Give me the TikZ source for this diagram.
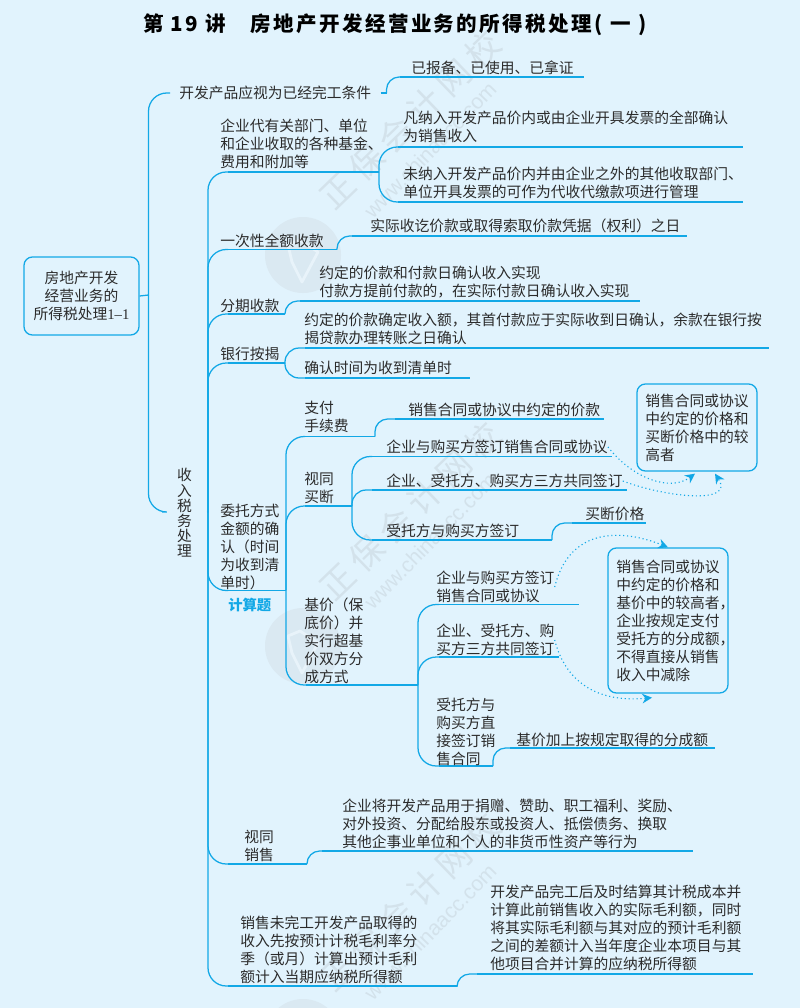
\documentclass[tikz,border=0pt]{standalone}
\usepackage{fontspec}
\setmainfont{Noto Sans CJK SC}
\newfontfamily\titlefont[LetterSpace=12]{Noto Sans CJK SC}
\newfontfamily\wmfont[LetterSpace=20]{Noto Sans CJK SC}
\newfontfamily\urlfont{Liberation Sans}
\newfontfamily\serialfont{Liberation Serif}
\usetikzlibrary{calc,arrows.meta}
\definecolor{paper}{HTML}{E1F3FD}
\definecolor{wirec}{HTML}{12A8E6}
\definecolor{inkc}{HTML}{2B2B2B}
\definecolor{wmc}{HTML}{D3E2EB}
\definecolor{logoc}{HTML}{DAE9F2}
\definecolor{logol}{HTML}{E8F3FA}
\tikzset{
	wire/.style={draw=wirec,line width=0.9pt},
	bigbend/.style={rounded corners=13pt},
	midbend/.style={rounded corners=10pt},
	stepup/.style={rounded corners=9pt},
	txt/.style={anchor=west,align=left,inner sep=0pt,text=inkc,font=\fontsize{10.5}{12.8}\selectfont},
	boxed/.style={draw=wirec,line width=0.9pt,rounded corners=6pt,align=left,inner sep=0pt,text=inkc,font=\fontsize{10.5}{12.8}\selectfont},
	hint/.style={draw=wirec,line width=0.8pt,dotted,-{Stealth[length=7pt,width=7pt,fill=wirec,line width=0pt]}},
	wmt/.style={text=wmc,inner sep=0pt,rotate=44,font=\wmfont\fontsize{24}{24}\selectfont},
	wmu/.style={text=wmc,inner sep=0pt,rotate=46,font=\urlfont\fontsize{15}{15}\selectfont}
}
\def\rail(#1)(#2:#3:#4){\coordinate (#1a) at (#2,#4); \coordinate (#1b) at (#3,#4); \draw[wire] (#1a) -- (#1b);}
\def\wmark(#1)(#2,#3){
	\fill[logoc] (#2-107,#3+135) circle (38);
	\draw[logol,line width=2pt,line join=round] (#2-122,#3+125) -- (#2-110,#3+120) -- (#2-92,#3+132) -- (#2-108,#3+162) -- (#2-118,#3+142) -- cycle;
	\node[wmt] (#1t) at (#2,#3) {正保会计网校};
	\node[wmu] (#1u) at (#2+20,#3+30) {www.chinaacc.com};
}

\begin{document}
\begin{tikzpicture}[x=0.025cm,y=-0.025cm]
		%%%%% START %%%%%
		\useasboundingbox (0,0) rectangle (800,1008);
		\fill[paper] (0,0) rectangle (800,1008);
		\wmark(wma)(410,120)
		\wmark(wmb)(410,511)
		\wmark(wmd)(410,902)
		
		\node[anchor=west,inner sep=0pt,text=black,font=\titlefont\bfseries\fontsize{14.6}{16}\selectfont] (title) at (143,25) {第 19 讲\hspace{17pt}房地产开发经营业务的所得税处理( 一 )};
		
		% left column
		\node[boxed,minimum width=2.875cm,minimum height=1.95cm,align=center] (root) at (81.5,296) {房地产开发\\经营业务的\\所得税处理{\serialfont 1–1}};
		\coordinate (rootj) at (148.5,295);
		\coordinate (srj) at (208,512);
		\node[txt,inner xsep=0.225cm] (kfcp) at (170,93) {开发产品应视为已经完工条件};
		\node[txt,anchor=center,align=center,inner xsep=0.37cm,font=\fontsize{10.5}{10.8}\selectfont] (shouru) at (184.5,513) {收\\入\\税\\务\\处\\理};
		\draw[wire] (root.east) -- (rootj);
		\draw[wire,bigbend] (kfcp.west) -| (rootj);
		\draw[wire,bigbend] (shouru.west |- srj) -| (rootj);
		\draw[wire] (shouru.east |- srj) -- (srj);
		
		\rail(yb)(400:584:77)
		\node[txt] (tyb) at (411,68) {已报备、已使用、已拿证};
		\draw[wire] (kfcp.east) -- ++(6,0) coordinate (kfj);
		\draw[wire,stepup] (kfj) |- (yba);
		
		\rail(qy)(228:379:172)
		\node[txt] (tqy) at (220,144) {企业代有关部门、单位\\和企业收取的各种基金、\\费用和附加等};
		\draw[wire,bigbend] (qya) -| (srj);
		\rail(fn)(398:743:147)
		\rail(wn)(398:743:202)
		\node[txt] (tfn) at (403,127) {凡纳入开发产品价内或由企业开具发票的全部确认\\为销售收入};
		\node[txt] (twn) at (403,183) {未纳入开发产品价内并由企业之外的其他收取部门、\\单位开具发票的可作为代收代缴款项进行管理};
		\draw[wire,bigbend] (fna) -| (qyb);
		\draw[wire,bigbend] (wna) -| (qyb);
		
		\rail(yc)(228:337:249.5)
		\node[txt] (tyc) at (220,241) {一次性全额收款};
		\draw[wire,bigbend] (yca) -| (srj);
		\rail(sj)(352:687:236)
		\node[txt] (tsj) at (370,226) {实际收讫价款或取得索取价款凭据（权利）之日};
		\draw[wire,stepup] (ycb) |- (sja);
		
		\rail(fq)(228:285:314)
		\node[txt] (tfq) at (220,306) {分期收款};
		\draw[wire,bigbend] (fqa) -| (srj);
		\rail(yd)(300:640:301)
		\node[txt] (tyd) at (319,282) {约定的价款和付款日确认收入实现\\付款方提前付款的，在实际付款日确认收入实现};
		\draw[wire,stepup] (fqb) |- (yda);
		
		\rail(yh)(228:285:363)
		\node[txt] (tyh) at (220,354) {银行按揭};
		\draw[wire,bigbend] (yha) -| (srj);
		\rail(ydj)(305:769:348)
		\rail(qr)(305:470:378)
		\node[txt] (tydj) at (304,329) {约定的价款确定收入额，其首付款应于实际收到日确认，余款在银行按\\揭贷款办理转账之日确认};
		\node[txt] (tqr) at (304,368) {确认时间为收到清单时};
		\draw[wire,midbend] (ydja) -| (yhb);
		\draw[wire,midbend] (qra) -| (yhb);
		
		% entrusted sales
		\rail(wt)(228:286:590.5)
		\node[txt] (twt) at (220,547) {委托方式\\金额的确\\认（时间\\为收到清\\单时）};
		\node[txt,text=wirec,font=\bfseries\fontsize{10.2}{12}\selectfont] (tjs) at (228,605) {计算题};
		\draw[wire,bigbend] (wta) -| (srj);
		
		\rail(zf)(305:375:436.5)
		\node[txt] (tzf) at (304,417) {支付\\手续费};
		\draw[wire,bigbend] (zfa) -| (wtb);
		\rail(xs)(395:604:419)
		\node[txt] (txs) at (408,410) {销售合同或协议中约定的价款};
		\draw[wire,stepup] (zfb) |- (xsa);
		
		\rail(st)(305:352:506)
		\node[txt] (tst) at (304,488) {视同\\买断};
		\draw[wire,bigbend] (sta) -| (wtb);
		\rail(qm)(372:612:456.5)
		\rail(qs)(372:627:490)
		\rail(sf)(372:552:540)
		\node[txt] (tqm) at (386,447) {企业与购买方签订销售合同或协议};
		\node[txt] (tqs) at (386,481) {企业、受托方、购买方三方共同签订};
		\node[txt] (tsf) at (386,531) {受托方与购买方签订};
		\draw[wire,bigbend] (qma) -| (stb);
		\draw[wire,midbend] (qsa) -| (stb);
		\draw[wire,bigbend] (sfa) -| (stb);
		\rail(md)(572:646:523)
		\node[txt] (tmd) at (585,514) {买断价格};
		\draw[wire,stepup] (sfb) |- (mda);
		
		\rail(jj)(306:418:685)
		\node[txt] (tjj) at (304,641) {基价（保\\底价）并\\实行超基\\价双方分\\成方式};
		\draw[wire,bigbend] (jja) -| (wtb);
		\rail(qa)(439:579:604.5)
		\rail(qb)(439:559:657)
		\rail(sz)(439:493:766)
		\node[txt] (tqa) at (436,587) {企业与购买方签订\\销售合同或协议};
		\node[txt] (tqb) at (436,640) {企业、受托方、购\\买方三方共同签订};
		\node[txt] (tsz) at (436,732) {受托方与\\购买方直\\接签订销\\售合同};
		\draw[wire,bigbend] (qaa) -| (jjb);
		\draw[wire,bigbend] (qba) -| (jjb);
		\draw[wire,bigbend] (sza) -| (jjb);
		\rail(jf)(510:715:748)
		\node[txt] (tjf) at (516,740) {基价加上按规定取得的分成额};
		\draw[wire,stepup] (szb) |- (jfa);
		
		% right hand boxes
		\node[boxed,minimum width=3cm,minimum height=2.175cm] (boxa) at (697,427.5) {销售合同或协议\\中约定的价格和\\买断价格中的较\\高者};
		\node[boxed,minimum width=3cm,minimum height=3.625cm] (boxb) at (668,620.5) {销售合同或协议\\中约定的价格和\\基价中的较高者\rlap{，}\\企业按规定支付\\受托方的分成额\rlap{，}\\不得直接从销售\\收入中减除};
		\draw[hint] (tqm.east) .. controls (632,478) and (670,492) .. ([shift={(-2,2)}]boxa.south);
		\draw[hint] (tqs.east) .. controls (665,497) and (735,505) .. ([shift={(18,2)}]boxa.south);
		\draw[hint] (tqa.east) .. controls (570,525) and (625,530) .. (boxb.north);
		\draw[hint] (tqb.east) .. controls (565,680) and (595,703) .. ([shift={(-16,4)}]boxb.south);
		
		% lower branches
		\rail(ss)(228:307:864)
		\node[txt] (tss) at (244,846) {视同\\销售};
		\draw[wire,bigbend] (ssa) -| (srj);
		\rail(fc)(322:693:851)
		\node[txt] (tfc) at (342,824) {企业将开发产品用于捐赠、赞助、职工福利、奖励、\\对外投资、分配给股东或投资人、抵偿债务、换取\\其他企事业单位和个人的非货币性资产等行为};
		\draw[wire,stepup] (ssb) |- (fca);
		
		\rail(xw)(228:457:986)
		\node[txt] (txw) at (240,950) {销售未完工开发产品取得的\\收入先按预计计税毛利率分\\季（或月）计算出预计毛利\\额计入当期应纳税所得额};
		\draw[wire,bigbend] (xwa) -| (srj);
		\rail(kf)(477:753:974)
		\node[txt] (tkf) at (490,928) {开发产品完工后及时结算其计税成本并\\计算此前销售收入的实际毛利额，同时\\将其实际毛利额与其对应的预计毛利额\\之间的差额计入当年度企业本项目与其\\他项目合并计算的应纳税所得额};
		\draw[wire,stepup] (xwb) |- (kfa);
		%%%%% END %%%%%
	\end{tikzpicture}
\end{document}
